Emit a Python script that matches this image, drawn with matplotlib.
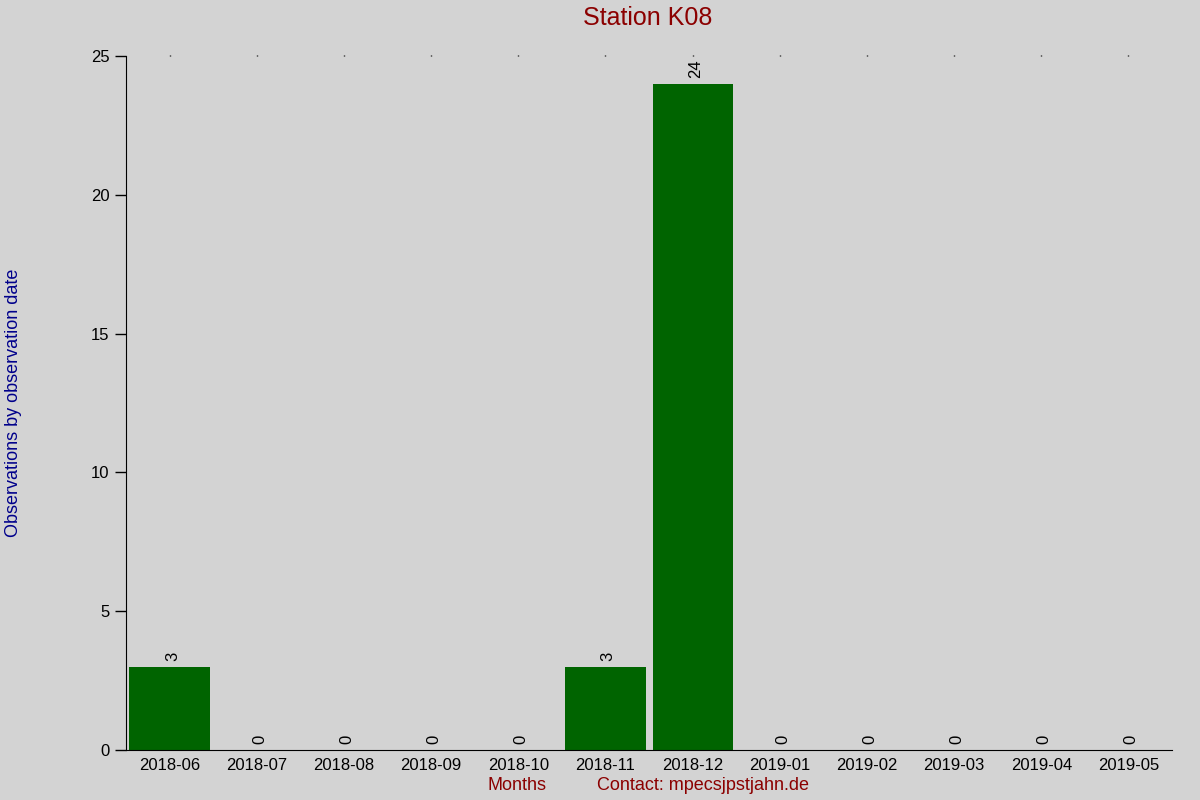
import matplotlib
matplotlib.use("Agg")
import matplotlib.pyplot as plt

# donnees
mois = ["2018-06", "2018-07", "2018-08", "2018-09", "2018-10", "2018-11",
        "2018-12", "2019-01", "2019-02", "2019-03", "2019-04", "2019-05"]
observations = [3, 0, 0, 0, 0, 3, 24, 0, 0, 0, 0, 0]
graduations_y = [0, 5, 10, 15, 20, 25]

FOND = "#d3d3d3"
VERT = "#006400"
ROUGE = "#8b0000"
BLEU = "#00008b"

plt.rcParams["font.family"] = ["Liberation Sans", "DejaVu Sans"]

fig = plt.figure(figsize=(12, 8), dpi=100, facecolor=FOND)
ax = fig.add_axes([0.105, 0.0625, 0.8717, 0.8675])
ax.set_facecolor(FOND)

positions = list(range(len(mois)))
ax.bar(positions, observations, width=0.92, color=VERT)

# valeur au-dessus de chaque barre, ecrite verticalement
for x, v in zip(positions, observations):
    ax.annotate(str(v), (x, v), xytext=(2, 4), textcoords="offset points",
                rotation=90, ha="center", va="bottom", fontsize=12)

ax.set_xlim(-0.5, len(mois) - 0.5)
ax.set_ylim(0, 25)
ax.set_xticks(positions)
ax.set_xticklabels(mois, fontsize=12)
ax.set_yticks(graduations_y)
ax.set_yticklabels([str(g) for g in graduations_y], fontsize=12)
ax.tick_params(axis="x", length=0, pad=6)
ax.tick_params(axis="y", length=8, width=1, pad=4)

# petits points en haut du graphique (graduations du haut)
ax_haut = ax.secondary_xaxis("top")
ax_haut.set_xticks(positions)
ax_haut.set_xticklabels([])
ax_haut.tick_params(length=1, width=1)
ax_haut.spines["top"].set_visible(False)

for cote in ("top", "right"):
    ax.spines[cote].set_visible(False)

fig.text(0.54, 0.977, "Station K08", color=ROUGE, fontsize=18,
         ha="center", va="center")
fig.text(0.011, 0.496, "Observations by observation date", color=BLEU,
         fontsize=13, rotation=90, ha="center", va="center")
fig.text(0.431, 0.018, "Months", color=ROUGE, fontsize=13,
         ha="center", va="center")
fig.text(0.586, 0.018, "Contact: mpecsjpstjahn.de", color=ROUGE,
         fontsize=13, ha="center", va="center")

fig.savefig("out.png", dpi=100, facecolor=FOND)
